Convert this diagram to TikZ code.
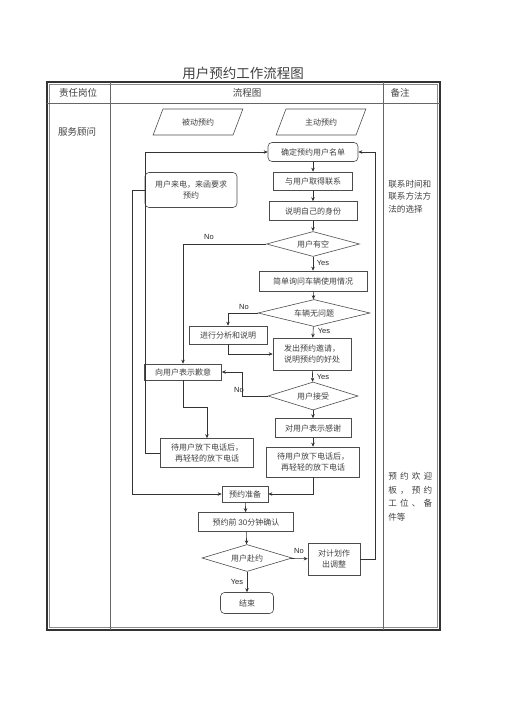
\documentclass[tikz,border=0pt]{standalone}
\usepackage{fontspec}
\newfontfamily\cjk{Noto Sans CJK SC}
\newfontfamily\lat{Liberation Sans}
\usetikzlibrary{shapes.geometric,arrows.meta}

\begin{document}
\begin{tikzpicture}[x=1pt,y=-1pt,line width=0.6pt,
    box/.style={draw=black!70,rectangle,inner sep=1pt,text=black!75,
        font=\cjk\fontsize{8}{11}\selectfont,align=center},
    rbox/.style={box,rounded corners=4pt},
    dia/.style={box,diamond,aspect=4,inner sep=0pt},
    slant/.style={box,trapezium,trapezium left angle=63,trapezium right angle=117,
        trapezium stretches=true,minimum width=90,minimum height=26},
    yn/.style={font=\lat\fontsize{7.5}{8}\selectfont,text=black!85,inner sep=0pt},
    txt/.style={font=\cjk\fontsize{9.5}{11}\selectfont,text=black!75,inner sep=0pt},
    flow/.style={draw=black!80,-{Stealth[length=4pt,width=3.5pt]}}]
            \useasboundingbox (0,0) rectangle (505,714);

            % title and table
            \node[txt,font=\cjk\fontsize{13.5}{15}\selectfont] (title) at (243,73) {用户预约工作流程图};
            \draw[line width=1.4pt,black!80] (47,82) rectangle (440,630);
            \draw[black!45,line width=0.5pt] (49.5,84.5) rectangle (437.5,627.5);
            \draw[black!60] (47,103) -- (440,103);
            \draw[black!60] (110,82) -- (110,630);
            \draw[black!60] (383,82) -- (383,630);

            \node[txt] (gangwei) at (78,93) {责任岗位};
            \node[txt] (liucheng) at (247,93) {流程图};
            \node[txt] (beizhu) at (400,93) {备注};
            \node[txt] (guwen) at (77,132) {服务顾问};

            % remarks
            \node[txt,font=\cjk\fontsize{8.6}{12.5}\selectfont,anchor=north west,align=left] (note1) at (388,180)
                {联系时间和\\联系方法方\\法的选择};
            \node[txt,font=\cjk\fontsize{8.6}{13.5}\selectfont,anchor=north west,align=left] (note2) at (388,472)
                {\makebox[44pt][s]{预\hfil 约\hfil 欢\hfil 迎}\\
                 \makebox[44pt][s]{板\hfil ，\hfil 预\hfil 约}\\
                 \makebox[44pt][s]{工\hfil 位\hfil 、\hfil 备}\\件等};

            % inputs
            \node[slant] (beidong) at (198,122) {被动预约};
            \node[slant] (zhudong) at (321,122) {主动预约};

            % right column
            \node[rbox,minimum width=90,minimum height=19] (queding) at (313,152) {确定预约用户名单};
            \node[box,minimum width=79,minimum height=18] (lianxi) at (313,181) {与用户取得联系};
            \node[box,minimum width=88,minimum height=19] (shenfen) at (313,211) {说明自己的身份};
            \node[dia,minimum width=93,minimum height=25] (youkong) at (313,244) {用户有空};
            \node[box,minimum width=108,minimum height=20] (xunwen) at (313,281) {简单询问车辆使用情况};
            \node[dia,minimum width=112,minimum height=27] (wenti) at (314,313) {车辆无问题};
            \node[box,minimum width=78,minimum height=32] (yaoqing) at (312,354) {发出预约邀请，\\说明预约的好处};
            \node[dia,minimum width=90,minimum height=28] (jieshou) at (313,396) {用户接受};
            \node[box,minimum width=76,minimum height=19] (ganxie) at (313,428) {对用户表示感谢};
            \node[box,minimum width=93,minimum height=30] (rightwait) at (313,462) {待用户放下电话后，\\再轻轻的放下电话};

            % left column
            \node[rbox,minimum width=92,minimum height=35] (laidian) at (191,190) {用户来电，来函要求\\预约};
            \node[box,minimum width=78,minimum height=18] (fenxi) at (228,335) {进行分析和说明};
            \node[box,minimum width=77,minimum height=16] (qianyi) at (183,372) {向用户表示歉意};
            \node[box,minimum width=93,minimum height=29] (leftwait) at (207,453) {待用户放下电话后，\\再轻轻的放下电话};

            % bottom part
            \node[box,minimum width=46,minimum height=16] (zhunbei) at (245,494) {预约准备};
            \node[box,minimum width=95,minimum height=19] (queren) at (246,522) {预约前 {\lat 30}分钟确认};
            \node[dia,minimum width=90,minimum height=27] (fuyue) at (247,558) {用户赴约};
            \node[box,minimum width=52,minimum height=32] (tiaozheng) at (334,559) {对计划作\\出调整};
            \node[rbox,minimum width=53,minimum height=21] (jieshu) at (247,603) {结束};

            % connectors
            \draw[flow] (queding) -- (lianxi);
            \draw[flow] (lianxi) -- (shenfen);
            \draw[flow] (shenfen) -- (youkong);
            \draw[flow] (youkong) -- (xunwen);
            \draw[flow] (youkong.west) -| (qianyi.north);
            \draw[flow] (xunwen) -- (wenti);
            \draw[flow] (wenti.west) -| (fenxi.north);
            \draw[flow] (wenti) -- (yaoqing);
            \draw[flow] (fenxi.south) |- (yaoqing.west);
            \draw[flow] (yaoqing) -- (jieshou);
            \draw[flow] (jieshou.west) -- ++(-25,0) |- (qianyi.east);
            \draw[flow] (jieshou) -- (ganxie);
            \draw[flow] (ganxie) -- (rightwait);
            \draw[flow] (qianyi.south) -- ++(0,27) -| (leftwait.north);
            \draw[flow] (leftwait.west) -- ++(-15,0) |- (queding.west);
            \draw[flow] (laidian.west) -- ++(-12,0) |- (zhunbei.west);
            \draw[flow] (rightwait.south) |- (zhunbei.east);
            \draw[flow] (zhunbei) -- (queren);
            \draw[flow] (queren) -- (fuyue);
            \draw[flow] (fuyue) -- (tiaozheng);
            \draw[flow] (fuyue) -- (jieshu);
            \draw[flow] (tiaozheng.east) -- ++(15,0) |- (queding.east);

            % yes / no
            \node[yn] (no1) at (209,237) {No};
            \node[yn] (yes1) at (323,263) {Yes};
            \node[yn] (no2) at (244,307) {No};
            \node[yn] (yes2) at (324,331) {Yes};
            \node[yn] (yes3) at (323,377) {Yes};
            \node[yn] (no3) at (239,390) {No};
            \node[yn] (no4) at (299,551) {No};
            \node[yn] (yes4) at (237,582) {Yes};
        \end{tikzpicture}
\end{document}
